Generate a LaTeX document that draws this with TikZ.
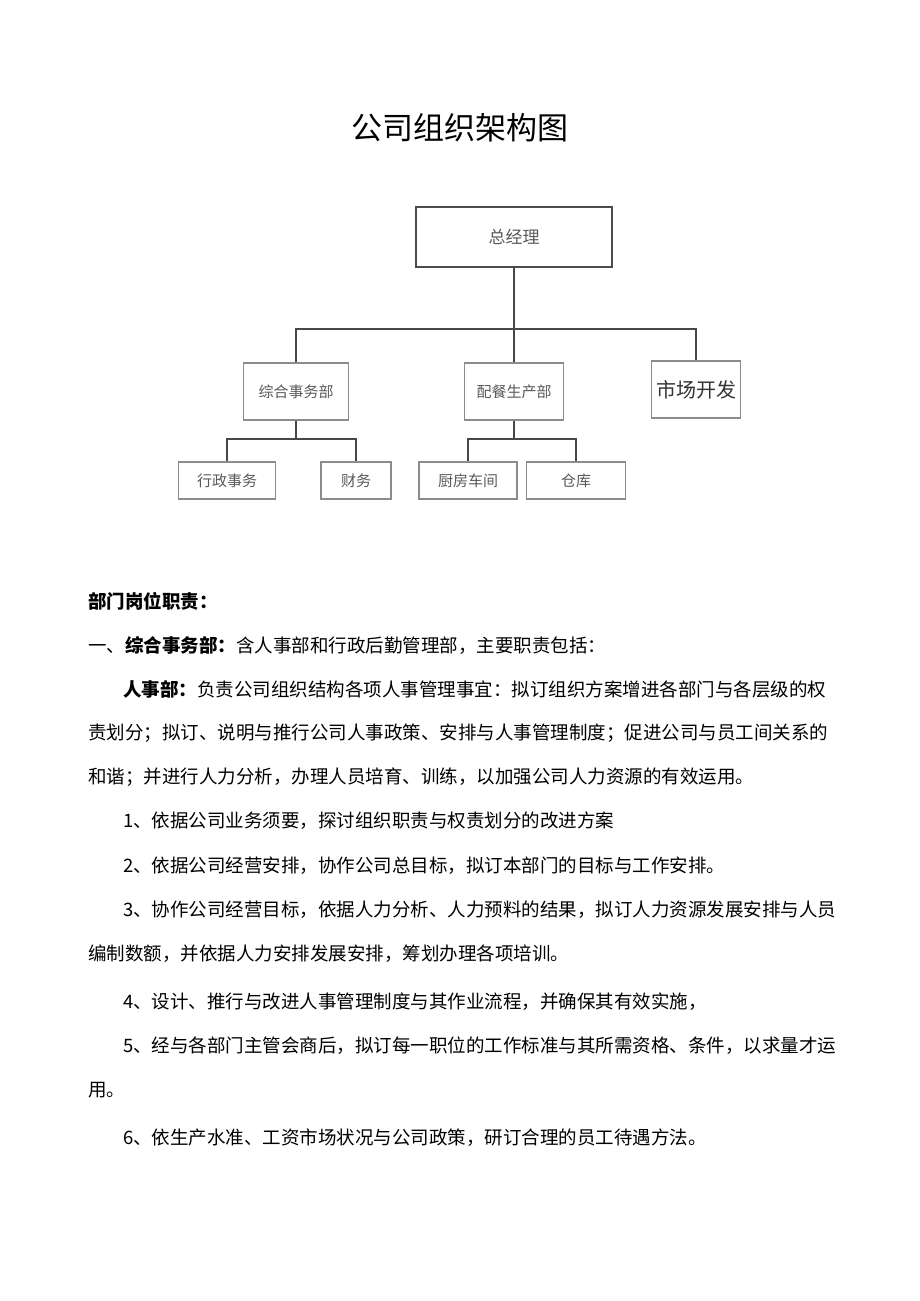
\documentclass[tikz,border=0pt]{standalone}
\usepackage{fontspec}
\setmainfont{Noto Sans CJK SC}

\begin{document}
\begin{tikzpicture}[
    x=1pt, y=-1pt,
    box/.style={rectangle, draw=black!45, line width=1.2pt, inner sep=0pt, text=black!65, font=\fontsize{15}{15}\selectfont},
    line/.style={draw=black!72, line width=1.4pt},
    txt/.style={anchor=west, inner sep=0pt, font=\fontsize{18.5}{18.5}\selectfont}
]
\useasboundingbox[fill=white] (0,0) rectangle (920,1301);

\node[inner sep=0pt, font=\fontsize{31}{31}\selectfont] (title) at (460,128) {公司组织架构图};

\node[box, draw=black!70, minimum width=196, minimum height=60, font=\fontsize{17}{17}\selectfont] (gm) at (514,237) {总经理};
\node[box, minimum width=105, minimum height=57] (zh) at (296,391.5) {综合事务部};
\node[box, minimum width=99, minimum height=57] (pc) at (514,391.5) {配餐生产部};
\node[box, minimum width=89, minimum height=57, text=black!80, font=\fontsize{20}{20}\selectfont] (sc) at (696,389.5) {市场开发};
\node[box, minimum width=97, minimum height=37] (xz) at (227,480.5) {行政事务};
\node[box, minimum width=70, minimum height=37] (cw) at (356,480.5) {财务};
\node[box, minimum width=98, minimum height=37] (cf) at (468,480.5) {厨房车间};
\node[box, minimum width=99, minimum height=37] (ck) at (576,480.5) {仓库};

\coordinate (bar) at (514,329);
\coordinate (bar1) at (296,439);
\coordinate (bar2) at (514,439);

\draw[line] (gm) -- (bar);
\draw[line] (zh.north) |- (bar) -| (sc.north);
\draw[line] (bar) -- (pc);
\draw[line] (zh) -- (bar1);
\draw[line] (xz.north) |- (bar1) -| (cw.north);
\draw[line] (pc) -- (bar2);
\draw[line] (cf.north) |- (bar2) -| (ck.north);

\node[txt] (h0) at (88,601) {\bfseries 部门岗位职责：};
\node[txt] (h1) at (88,645) {一、\textbf{综合事务部：}含人事部和行政后勤管理部，主要职责包括：};
\node[txt] (p1) at (123,689) {\textbf{人事部：}负责公司组织结构各项人事管理事宜：拟订组织方案增进各部门与各层级的权};
\node[txt] (p2) at (88,733) {责划分；拟订、说明与推行公司人事政策、安排与人事管理制度；促进公司与员工间关系的};
\node[txt] (p3) at (88,777) {和谐；并进行人力分析，办理人员培育、训练，以加强公司人力资源的有效运用。};
\node[txt] (i1) at (123,821) {1、依据公司业务须要，探讨组织职责与权责划分的改进方案};
\node[txt] (i2) at (123,866) {2、依据公司经营安排，协作公司总目标，拟订本部门的目标与工作安排。};
\node[txt] (i3) at (123,910) {3、协作公司经营目标，依据人力分析、人力预料的结果，拟订人力资源发展安排与人员};
\node[txt] (i3b) at (88,954) {编制数额，并依据人力安排发展安排，筹划办理各项培训。};
\node[txt] (i4) at (123,1002) {4、设计、推行与改进人事管理制度与其作业流程，并确保其有效实施，};
\node[txt] (i5) at (123,1046) {5、经与各部门主管会商后，拟订每一职位的工作标准与其所需资格、条件，以求量才运};
\node[txt] (i5b) at (88,1090) {用。};
\node[txt] (i6) at (123,1138) {6、依生产水准、工资市场状况与公司政策，研订合理的员工待遇方法。};

\end{tikzpicture}
\end{document}
